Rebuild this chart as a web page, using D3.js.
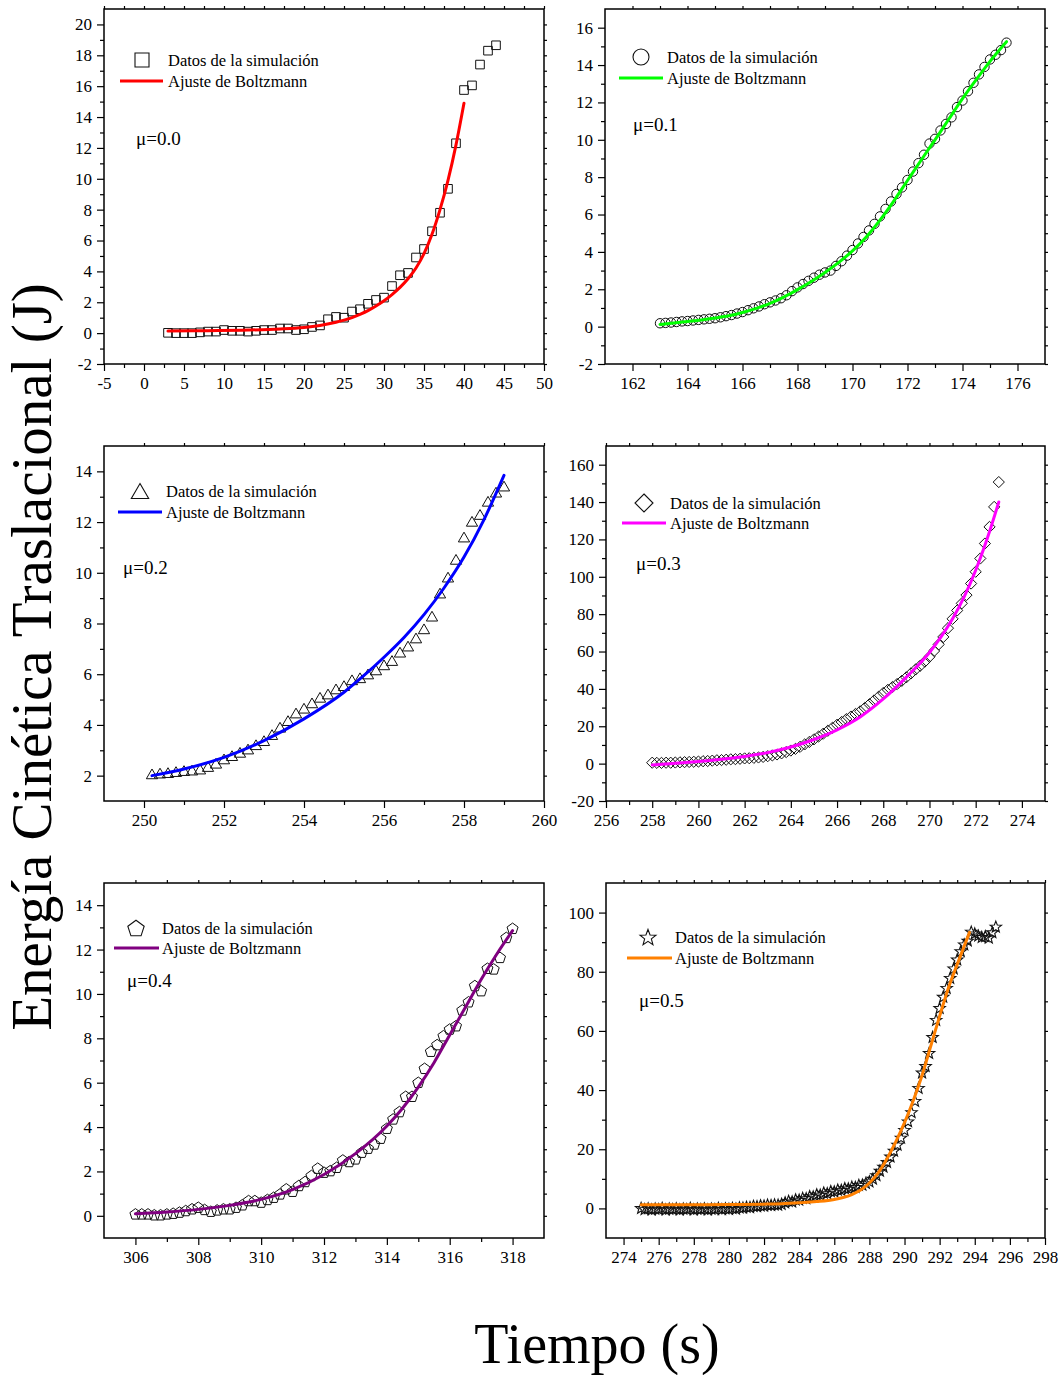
<!DOCTYPE html>
<html>
<head>
<meta charset="utf-8">
<script src="https://cdn.jsdelivr.net/npm/d3@7"></script>
<style>
  html, body { margin: 0; padding: 0; background: #fff; }
  svg { display: block; }
  svg text { font-family: "Liberation Serif", "Times New Roman", Times, serif; }
</style>
</head>
<body>
<svg id="chart" width="1061" height="1375"></svg>
<script>
// ---------- μ = 0.0 : simulation samples [t (s), E (J)] and Boltzmann fit ----------
const mu00Data = [[3,0.02],[4,0],[5,0],[6,0],[7,0.05],[8,0.1],[9,0.1],[10,0.2],[11,0.15],[12,0.15],
  [13,0.1],[14,0.15],[15,0.2],[16,0.2],[17,0.3],[18,0.3],[19,0.2],[20,0.25],[21,0.4],[22,0.5],
  [23,0.9],[24,1.05],[25,1.0],[26,1.4],[27,1.55],[28,1.9],[29,2.15],[30,2.3],[31,3.05],[32,3.75],
  [33,3.9],[34,4.9],[35,5.45],[36,6.6],[37,7.8],[38,9.35],[39,12.3],[40,15.75],[41,16.05],[42,17.4],
  [43,18.3],[44,18.65]];
const mu00Fit = [[3,0.13],[8,0.16],[13,0.2],[17,0.27],[20,0.37],[22,0.5],[24,0.7],[25,0.84],[26,1.01],[27,1.22],
  [28,1.46],[29,1.76],[30,2.1],[31,2.5],[32,2.96],[33,3.52],[34,4.22],[35,5.15],[36,6.4],[37,8.0],[38,9.9],
  [39,12.2],[40,14.9]];
const mu00XTicks = [-5,0,5,10,15,20,25,30,35,40,45,50];
const mu00YTicks = [-2,0,2,4,6,8,10,12,14,16,18,20];

// ---------- μ = 0.1 ----------
const mu01Data = [[163.0,0.18],[163.2,0.20],[163.4,0.22],[163.6,0.25],[163.8,0.28],[164.0,0.30],[164.2,0.33],
  [164.4,0.36],[164.6,0.39],[164.8,0.42],[165.0,0.45],[165.2,0.50],[165.4,0.56],[165.6,0.62],[165.8,0.70],
  [166.0,0.78],[166.2,0.88],[166.4,0.98],[166.6,1.08],[166.8,1.20],[167.0,1.30],[167.2,1.40],[167.4,1.52],
  [167.6,1.68],[167.8,1.90],[168.0,2.10],[168.2,2.28],[168.4,2.45],[168.6,2.62],[168.8,2.78],[169.0,2.90],
  [169.2,3.00],[169.4,3.25],[169.6,3.50],[169.8,3.80],[170.0,4.10],[170.2,4.45],[170.4,4.80],[170.6,5.15],
  [170.8,5.50],[171.0,5.90],[171.2,6.30],[171.4,6.70],[171.6,7.10],[171.8,7.45],[172.0,7.85],[172.2,8.30],
  [172.4,8.75],[172.6,9.20],[172.8,9.80],[173.0,10.05],[173.2,10.50],[173.4,10.85],[173.6,11.20],
  [173.8,11.75],[174.0,12.10],[174.2,12.60],[174.4,13.05],[174.6,13.50],[174.8,13.90],[175.0,14.30],
  [175.2,14.55],[175.4,14.80],[175.6,15.20]];
const mu01Fit = [[163,0.12],[163.5,0.2],[164,0.28],[164.5,0.36],[165,0.46],[165.5,0.58],[166,0.76],
  [166.5,0.98],[167,1.25],[167.5,1.58],[168,1.98],[168.5,2.42],[169,2.9],[169.5,3.44],[170,4.05],
  [170.5,4.8],[171,5.7],[171.5,6.72],[172,7.82],[172.5,8.92],[173,10.0],[173.5,11.1],[174,12.2],
  [174.5,13.22],[175,14.2],[175.6,15.25]];
const mu01XTicks = [162,164,166,168,170,172,174,176];
const mu01YTicks = [-2,0,2,4,6,8,10,12,14,16];

// ---------- μ = 0.2 ----------
const mu02Data = [[250.2,2.07],[250.4,2.1],[250.6,2.12],[250.8,2.16],[251.0,2.2],[251.2,2.22],[251.4,2.26],
  [251.6,2.36],[251.8,2.49],[252.0,2.66],[252.2,2.79],[252.4,2.92],[252.6,3.05],[252.8,3.22],[253.0,3.38],
  [253.2,3.62],[253.4,3.91],[253.6,4.17],[253.8,4.47],[254.0,4.66],[254.2,4.87],[254.4,5.09],[254.6,5.22],
  [254.8,5.42],[255.0,5.55],[255.2,5.78],[255.4,5.86],[255.6,6.01],[255.8,6.17],[256.0,6.37],[256.2,6.54],
  [256.4,6.87],[256.6,7.11],[256.8,7.43],[257.0,7.79],[257.2,8.29],[257.4,9.2],[257.6,9.83],[257.8,10.53],
  [258.0,11.41],[258.2,12.03],[258.4,12.3],[258.6,12.82],[258.8,13.18],[259.0,13.42]];
const mu02Fit = [[250.2,2.0],[251,2.26],[252,2.72],[253,3.38],[254,4.24],[255,5.29],[255.5,5.95],
  [256,6.67],[256.5,7.45],[257,8.35],[257.5,9.4],[258,10.62],[258.5,12.1],[259,13.84]];
const mu02XTicks = [250,252,254,256,258,260];
const mu02YTicks = [2,4,6,8,10,12,14];

// ---------- μ = 0.3 ----------
const mu03Data = [[258.0,0.5],[258.2,0.4],[258.4,0.4],[258.6,0.5],[258.8,0.5],[259.0,0.6],[259.2,0.7],
  [259.4,0.8],[259.6,0.9],[259.8,1.0],[260.0,1.1],[260.2,1.3],[260.4,1.4],[260.6,1.6],[260.8,1.8],
  [261.0,1.9],[261.2,2.1],[261.4,2.3],[261.6,2.4],[261.8,2.6],[262.0,2.8],[262.2,2.9],[262.4,3.1],
  [262.6,3.3],[262.8,3.6],[263.0,4.0],[263.2,4.4],[263.4,4.9],[263.6,5.5],[263.8,6.2],[264.0,7.0],
  [264.2,7.9],[264.4,9.0],[264.6,10.3],[264.8,11.6],[265.0,13.0],[265.2,14.5],[265.4,16.0],[265.6,17.6],
  [265.8,19.2],[266.0,20.8],[266.2,22.3],[266.4,23.8],[266.6,25.2],[266.8,26.6],[267.0,28.0],[267.2,29.8],
  [267.4,31.8],[267.6,33.8],[267.8,35.8],[268.0,37.8],[268.2,39.5],[268.4,41.0],[268.6,42.6],[268.8,44.3],
  [269.0,46.2],[269.2,48.3],[269.4,50.4],[269.6,52.4],[269.8,54.6],[270.0,57.2],[270.2,60.3],[270.4,63.8],
  [270.6,67.8],[270.8,72.5],[271.0,77.5],[271.2,82.0],[271.4,85.8],[271.6,90.2],[271.8,96.4],[272.0,102.7],
  [272.2,109.8],[272.4,117.8],[272.6,126.7],[272.8,137.4],[273.0,150.7]];
const mu03Fit = [[258,-0.7],[259,0.2],[260,1.1],[261,2.3],[262,3.8],[263,5.9],[264,8.9],[265,12.9],
  [266,18.1],[267,25.0],[268,34.6],[269,46.3],[270,59.5],[270.5,67.8],[271,77.5],[271.5,89.2],
  [272,103.5],[272.5,120.5],[273,140.0]];
const mu03XTicks = [256,258,260,262,264,266,268,270,272,274];
const mu03YTicks = [-20,0,20,40,60,80,100,120,140,160];

// ---------- μ = 0.4 ----------
const mu04Data = [[306.0,0.09],[306.2,0.09],[306.4,0.09],[306.6,0.05],[306.8,0.05],[307.0,0.09],[307.2,0.12],
  [307.4,0.17],[307.6,0.24],[307.8,0.32],[308.0,0.39],[308.2,0.29],[308.4,0.21],[308.6,0.27],[308.8,0.32],
  [309.0,0.32],[309.2,0.39],[309.4,0.5],[309.6,0.69],[309.8,0.69],[310.0,0.62],[310.2,0.74],[310.4,0.84],
  [310.6,0.99],[310.8,1.22],[311.0,1.11],[311.2,1.37],[311.4,1.55],[311.6,1.82],[311.8,2.15],[312.0,1.97],
  [312.2,2.04],[312.4,2.19],[312.6,2.52],[312.8,2.45],[313.0,2.57],[313.2,2.87],[313.4,3.05],[313.6,3.24],
  [313.8,3.5],[314.0,3.95],[314.2,4.37],[314.4,4.7],[314.6,5.39],[314.8,5.39],[315.0,6.02],[315.2,6.65],
  [315.4,7.42],[315.6,7.72],[315.8,8.12],[316.0,8.42],[316.2,8.57],[316.4,9.28],[316.6,9.65],[316.8,10.38],
  [317.0,10.15],[317.2,11.16],[317.4,11.13],[317.6,11.65],[317.8,12.55],[318.0,12.96]];
const mu04Fit = [[306,0.09],[307,0.17],[308,0.29],[309,0.47],[310,0.74],[311,1.18],[312,1.86],[313,2.8],
  [314,4.05],[314.5,4.85],[315,5.8],[315.5,6.9],[316,8.15],[316.5,9.4],[317,10.65],[317.5,11.8],[318,12.85]];
const mu04XTicks = [306,308,310,312,314,316,318];
const mu04YTicks = [0,2,4,6,8,10,12,14];

// ---------- μ = 0.5 ----------
const mu05Data = [[275.0,0.2],[275.2,-0.2],[275.4,0.1],[275.6,-0.3],[275.8,0.0],[276.0,-0.2],[276.2,0.2],
  [276.4,-0.3],[276.6,0.0],[276.8,-0.2],[277.0,0.1],[277.2,-0.3],[277.4,0.0],[277.6,-0.2],[277.8,0.2],
  [278.0,-0.3],[278.2,0.0],[278.4,-0.2],[278.6,0.1],[278.8,-0.3],[279.0,0.0],[279.2,-0.2],[279.4,0.2],
  [279.6,-0.2],[279.8,0.1],[280.0,-0.1],[280.2,0.2],[280.4,0.0],[280.6,0.4],[280.8,0.3],[281.0,0.6],
  [281.2,0.5],[281.4,0.9],[281.6,0.8],[281.8,1.1],[282.0,1.0],[282.2,1.3],[282.4,1.2],[282.6,1.4],
  [282.8,1.3],[283.0,1.6],[283.2,2.1],[283.4,2.6],[283.6,2.4],[283.8,3.1],[284.0,3.0],[284.2,3.6],
  [284.4,3.5],[284.6,4.2],[284.8,4.1],[285.0,4.8],[285.2,4.7],[285.4,5.4],[285.6,5.2],[285.8,5.9],
  [286.0,5.8],[286.2,6.4],[286.4,6.3],[286.6,6.9],[286.8,6.8],[287.0,7.4],[287.2,7.3],[287.4,8.0],
  [287.6,8.1],[287.8,8.7],[288.0,9.2],[288.2,10.1],[288.4,11.3],[288.6,12.8],[288.8,14.2],[289.0,15.8],
  [289.2,17.6],[289.4,19.6],[289.6,21.6],[289.8,24.0],[290.0,26.6],[290.2,29.5],[290.4,32.6],[290.6,36.4],
  [290.8,40.8],[291.0,46.0],[291.2,48.2],[291.4,52.6],[291.6,58.0],[291.8,63.8],[292.0,67.8],[292.2,71.6],
  [292.4,74.6],[292.6,78.0],[292.8,81.2],[293.0,84.2],[293.2,87.0],[293.4,89.3],[293.6,90.6],[293.8,93.6],
  [294.0,93.0],[294.2,92.3],[294.4,91.8],[294.6,92.1],[294.8,91.6],[295.0,93.4],[295.2,95.3]];
const mu05Fit = [[275,1.2],[278,1.22],[280,1.3],[282,1.45],[283,1.6],[284,1.9],[285,2.3],[286,3.0],
  [286.5,3.7],[287,4.7],[287.5,6.2],[288,8.6],[288.5,12.0],[289,16.8],[289.5,22.5],[290,29.0],
  [290.5,36.5],[291,45.0],[291.5,55.0],[292,65.0],[292.5,74.5],[293,82.5],[293.7,93.3]];
const mu05XTicks = [274,276,278,280,282,284,286,288,290,292,294,296,298];
const mu05YTicks = [0,20,40,60,80,100];

const legendDataText = "Datos de la simulación";
const legendFitText = "Ajuste de Boltzmann";
const yTitle = "Energía Cinética Traslacional (J)";
const xTitle = "Tiempo (s)";

// ---------- marker shapes (size argument is used as a radius) ----------
const squareMark = { draw(c, r) { c.rect(-r, -r, 2 * r, 2 * r); } };
const circleMark = { draw(c, r) { c.moveTo(r, 0); c.arc(0, 0, r, 0, 2 * Math.PI); } };
const triangleMark = { draw(c, r) {
  const h = r * Math.sqrt(3) / 2;
  c.moveTo(0, -0.75 * r); c.lineTo(h, 0.75 * r); c.lineTo(-h, 0.75 * r); c.closePath(); } };
const diamondMark = { draw(c, r) { c.moveTo(0, -r); c.lineTo(r, 0); c.lineTo(0, r); c.lineTo(-r, 0); c.closePath(); } };
const pentagonMark = { draw(c, r) {
  for (let i = 0; i < 5; i++) {
    const a = -Math.PI / 2 + i * 2 * Math.PI / 5;
    const px = r * Math.cos(a), py = r * Math.sin(a) + r * 0.1;
    if (i === 0) c.moveTo(px, py); else c.lineTo(px, py);
  }
  c.closePath(); } };
const starMark = { draw(c, r) {
  for (let i = 0; i < 10; i++) {
    const a = -Math.PI / 2 + i * Math.PI / 5;
    const rr = i % 2 === 0 ? r : r * 0.42;
    const px = rr * Math.cos(a), py = rr * Math.sin(a) + r * 0.1;
    if (i === 0) c.moveTo(px, py); else c.lineTo(px, py);
  }
  c.closePath(); } };

const FONT = '"Liberation Serif", "Times New Roman", Times, serif';

const panels = [
  { data: mu00Data, fit: mu00Fit, xTicks: mu00XTicks, yTicks: mu00YTicks, xDomain: [-5, 50], yDomain: [-2, 21],
    frame: [104, 544, 9, 364], color: "#ff0000", mark: squareMark, r: 4.3, lr: 7, sw: 1, label: "μ=0.0",
    lg: { mx: 38, my: 51, l0: 16, l1: 59, ly: 72, tx: 64, ux: 32, uy: 129 } },
  { data: mu01Data, fit: mu01Fit, xTicks: mu01XTicks, yTicks: mu01YTicks, xDomain: [161, 177], yDomain: [-2, 17],
    frame: [605, 1045, 9, 364], color: "#00ff00", mark: circleMark, r: 4.7, lr: 8, sw: 1, label: "μ=0.1",
    lg: { mx: 36, my: 48, l0: 14, l1: 58, ly: 69, tx: 62, ux: 28, uy: 115 } },
  { data: mu02Data, fit: mu02Fit, xTicks: mu02XTicks, yTicks: mu02YTicks, xDomain: [249, 260], yDomain: [1, 15],
    frame: [104, 544, 446, 801], color: "#0000ff", mark: triangleMark, r: 6.5, lr: 10, sw: 1, label: "μ=0.2",
    lg: { mx: 36, my: 45, l0: 14, l1: 58, ly: 66, tx: 62, ux: 19, uy: 121 } },
  { data: mu03Data, fit: mu03Fit, xTicks: mu03XTicks, yTicks: mu03YTicks, xDomain: [256, 275], yDomain: [-20, 170],
    frame: [606, 1045, 446, 801], color: "#ff00ff", mark: diamondMark, r: 5.6, lr: 9, sw: 1, label: "μ=0.3",
    lg: { mx: 38, my: 57, l0: 16, l1: 60, ly: 77, tx: 64, ux: 30, uy: 117 } },
  { data: mu04Data, fit: mu04Fit, xTicks: mu04XTicks, yTicks: mu04YTicks, xDomain: [305, 319], yDomain: [-1, 15],
    frame: [104, 544, 883, 1238], color: "#800080", mark: pentagonMark, r: 5.8, lr: 8.6, sw: 1, label: "μ=0.4",
    lg: { mx: 32, my: 45, l0: 10, l1: 55, ly: 65, tx: 58, ux: 23, uy: 97 } },
  { data: mu05Data, fit: mu05Fit, xTicks: mu05XTicks, yTicks: mu05YTicks, xDomain: [273, 298], yDomain: [-10, 110],
    frame: [606, 1045, 883, 1238], color: "#ff8000", mark: starMark, r: 6, lr: 8.4, sw: 1.1, label: "μ=0.5",
    lg: { mx: 42, my: 54, l0: 21, l1: 66, ly: 75, tx: 69, ux: 33, uy: 117 } }
];

const svg = d3.select("#chart");
svg.append("rect").attr("width", 1061).attr("height", 1375).attr("fill", "#fff");

function midpoints(t) {
  const m = [];
  for (let i = 0; i < t.length - 1; i++) m.push((t[i] + t[i + 1]) / 2);
  return m;
}

function styleAxis(g, fontSize) {
  g.attr("font-family", FONT).attr("font-size", fontSize);
  g.select(".domain").remove();
  g.selectAll(".tick line").attr("stroke", "#000").attr("stroke-width", 1.2);
  g.selectAll(".tick text").attr("fill", "#000")
    .attr("font-family", FONT).attr("font-size", fontSize);
}

function drawPanel(p) {
  const [x0, x1, y0, y1] = p.frame;
  const x = d3.scaleLinear().domain(p.xDomain).range([x0, x1]);
  const y = d3.scaleLinear().domain(p.yDomain).range([y1, y0]);
  const g = svg.append("g");
  const fmt = d => String(d);
  const xMinor = midpoints(p.xTicks), yMinor = midpoints(p.yTicks);

  // outward ticks on the bottom and left edges
  g.append("g").attr("transform", `translate(0,${y1})`)
    .call(d3.axisBottom(x).tickValues(p.xTicks).tickSize(7).tickPadding(6).tickFormat(fmt))
    .call(a => styleAxis(a, 17));
  g.append("g").attr("transform", `translate(0,${y1})`)
    .call(d3.axisBottom(x).tickValues(xMinor).tickSize(4).tickFormat(""))
    .call(a => styleAxis(a, 17));
  g.append("g").attr("transform", `translate(${x0},0)`)
    .call(d3.axisLeft(y).tickValues(p.yTicks).tickSize(7).tickPadding(5).tickFormat(fmt))
    .call(a => styleAxis(a, 17));
  g.append("g").attr("transform", `translate(${x0},0)`)
    .call(d3.axisLeft(y).tickValues(yMinor).tickSize(4).tickFormat(""))
    .call(a => styleAxis(a, 17));

  // short mirrored ticks on the top and right edges
  g.append("g").attr("transform", `translate(0,${y0})`)
    .call(d3.axisTop(x).tickValues(p.xTicks.concat(xMinor)).tickSize(3).tickFormat(""))
    .call(a => styleAxis(a, 17));
  g.append("g").attr("transform", `translate(${x1},0)`)
    .call(d3.axisRight(y).tickValues(p.yTicks.concat(yMinor)).tickSize(3).tickFormat(""))
    .call(a => styleAxis(a, 17));

  g.append("rect")
    .attr("x", x0).attr("y", y0).attr("width", x1 - x0).attr("height", y1 - y0)
    .attr("fill", "none").attr("stroke", "#000").attr("stroke-width", 1.5);

  // simulation points
  const sym = d3.symbol().type(p.mark).size(p.r);
  g.append("g").selectAll("path").data(p.data).join("path")
    .attr("transform", d => `translate(${x(d[0])},${y(d[1])})`)
    .attr("d", sym)
    .attr("fill", "none").attr("stroke", "#111").attr("stroke-width", p.sw);

  // Boltzmann fit curve
  const line = d3.line().x(d => x(d[0])).y(d => y(d[1])).curve(d3.curveMonotoneX);
  g.append("path").datum(p.fit).attr("d", line)
    .attr("fill", "none").attr("stroke", p.color).attr("stroke-width", 3)
    .attr("stroke-linejoin", "round").attr("stroke-linecap", "round");

  // legend
  const L = p.lg;
  g.append("path")
    .attr("transform", `translate(${x0 + L.mx},${y0 + L.my})`)
    .attr("d", d3.symbol().type(p.mark).size(p.lr)())
    .attr("fill", "none").attr("stroke", "#111").attr("stroke-width", 1.1);
  g.append("line")
    .attr("x1", x0 + L.l0).attr("x2", x0 + L.l1).attr("y1", y0 + L.ly).attr("y2", y0 + L.ly)
    .attr("stroke", p.color).attr("stroke-width", 3);
  g.append("text").attr("x", x0 + L.tx).attr("y", y0 + L.my + 5.5)
    .attr("font-family", FONT).attr("font-size", 16.5).attr("fill", "#000").text(legendDataText);
  g.append("text").attr("x", x0 + L.tx).attr("y", y0 + L.ly + 5.5)
    .attr("font-family", FONT).attr("font-size", 16.5).attr("fill", "#000").text(legendFitText);
  g.append("text").attr("x", x0 + L.ux).attr("y", y0 + L.uy + 6.5)
    .attr("font-family", FONT).attr("font-size", 19).attr("fill", "#000").text(p.label);
}

panels.forEach(drawPanel);

// shared axis titles
svg.append("text")
  .attr("transform", "translate(51,657) rotate(-90)")
  .attr("text-anchor", "middle")
  .attr("font-family", FONT).attr("font-size", 57).attr("fill", "#000")
  .text(yTitle);
svg.append("text")
  .attr("x", 597).attr("y", 1363)
  .attr("text-anchor", "middle")
  .attr("font-family", FONT).attr("font-size", 56).attr("fill", "#000")
  .text(xTitle);
</script>
</body>
</html>
